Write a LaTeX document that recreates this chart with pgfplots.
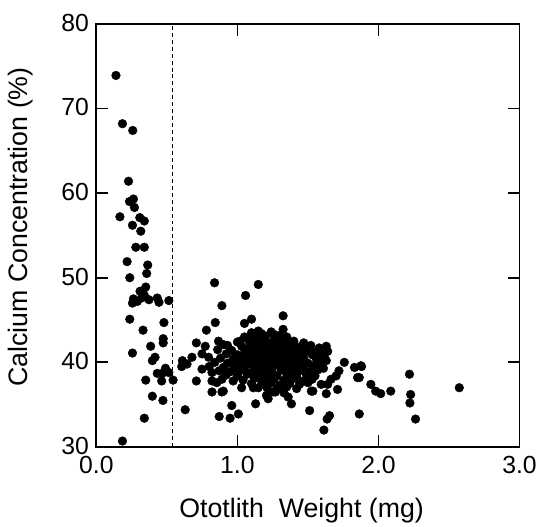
\documentclass[border=0pt]{standalone}
\usepackage{fontspec}
\setmainfont{Liberation Sans}
\usepackage{pgfplots}
\pgfplotsset{compat=1.18}
\begin{document}
\begin{tikzpicture}[x=1bp,y=1bp]
\begin{axis}[
  width=426bp, height=426bp, scale only axis,
  xmin=0, xmax=3, ymin=30, ymax=80,
  xtick={0,1,2,3}, ytick={30,40,50,60,70,80},
  tick align=inside, major tick length=12bp,
  axis line style={line width=1.8bp},
  every tick/.style={line width=1.8bp, black},
  /pgf/number format/assume math mode=true,
  ticklabel style={font=\fontsize{25}{29}\selectfont},
  xticklabel style={yshift=-6bp, /pgf/number format/fixed, /pgf/number format/precision=1, /pgf/number format/zerofill},
  yticklabel style={xshift=-4bp, yshift=1bp},
  label style={font=\fontsize{27}{31}\selectfont},
  xlabel={Ototlith\ \ Weight (mg)},
  ylabel={Calcium Concentration (\%)},
  xlabel style={at={(axis description cs:0.485,-0.150)}, anchor=center},
  ylabel style={at={(axis description cs:-0.178,0.52)}, anchor=center},
  clip=false,
]
\path (axis description cs:-0.2277,-0.1854) rectangle (axis description cs:1.04,1.0563);
\addplot[black, line width=0.9bp, dash pattern=on 4bp off 3bp] coordinates {(0.54,30) (0.54,80)};
\addplot[only marks, mark=*, mark size=4.4bp, mark options={fill=black, draw=black}] coordinates {
(0.139,73.9) (0.185,68.2) (0.258,67.4) (0.228,61.4) (0.235,59.0) (0.263,59.3) (0.27,58.3)
(0.167,57.2) (0.308,57.1) (0.34,56.7) (0.256,56.2) (0.315,55.5) (0.28,53.6) (0.34,53.6)
(0.218,51.9) (0.364,51.5) (0.357,50.5) (0.237,50.0) (0.35,48.9) (0.31,48.4) (0.338,48.0)
(0.263,47.5) (0.29,47.2) (0.256,47.0) (0.373,47.4) (0.32,47.6) (0.432,47.6) (0.444,47.1)
(0.514,47.3) (0.237,45.1) (0.479,44.7) (0.331,43.8) (0.474,42.8) (0.474,42.3) (0.385,41.9)
(0.256,41.1) (0.416,40.6) (0.397,40.2) (0.49,39.3) (0.432,38.7) (0.467,38.7) (0.514,38.8)
(0.463,37.8) (0.544,37.9) (0.35,37.9) (0.397,36.0) (0.472,35.5) (0.34,33.4) (0.185,30.7)
(0.605,39.5) (0.61,40.2) (0.63,34.4) (0.643,39.8) (0.678,40.6) (0.709,42.3) (0.709,37.8)
(0.749,41.0) (0.749,39.2) (0.772,41.9) (0.78,43.8) (0.796,40.6) (0.82,38.8) (0.82,37.8)
(0.82,36.5) (0.838,49.4) (0.843,44.7) (0.854,37.6) (0.866,42.5) (0.89,46.7) (0.90,42.1)
(0.9,39.0) (0.9,36.6) (0.89,36.5) (0.871,33.6) (0.948,33.4) (0.96,34.9) (0.97,37.8)
(1.007,33.9) (1.03,37.0) (1.019,42.5) (1.05,44.6) (1.058,47.9) (1.10,45.1) (1.148,49.2)
(1.148,43.7) (1.129,35.1) (1.113,37.0) (1.148,37.0) (1.206,36.1) (1.218,35.7) (1.254,36.5)
(1.26,43.3) (1.324,45.5) (1.324,43.9) (1.36,35.9) (1.383,35.1) (1.406,41.9) (1.512,34.3)
(1.524,36.6) (1.535,36.6) (1.594,37.4) (1.613,32.0) (1.636,33.3) (1.653,33.7) (1.63,41.9)
(1.64,41.3) (1.617,40.6) (1.64,37.4) (1.63,36.3) (1.664,38.0) (1.70,38.4) (1.71,36.8)
(1.72,39.0) (1.758,40.0) (1.83,39.4) (1.876,39.6) (1.88,39.5) (1.852,38.2) (1.864,38.2)
(1.864,33.9) (1.946,37.4) (1.98,36.6) (2.016,36.3) (2.087,36.6) (2.22,38.6)
(2.228,36.2) (2.223,35.2) (2.263,33.3) (2.573,37.0)
(1.10,43.5) (1.17,43.4) (1.24,43.6) (1.30,43.2)
(1.05,43.0) (1.14,42.9) (1.20,43.1) (1.28,42.8) (1.35,43.0)
(1.00,42.4) (1.08,42.6) (1.16,42.5) (1.22,42.3) (1.27,42.6) (1.33,42.4) (1.40,42.5) (1.47,42.3)
(0.93,42.0) (1.03,41.9) (1.11,42.1) (1.19,41.8) (1.25,42.0) (1.31,41.9) (1.37,42.1) (1.44,41.8) (1.52,42.0) (1.58,41.7)
(0.86,41.5) (0.96,41.4) (1.05,41.6) (1.13,41.3) (1.21,41.5) (1.28,41.4) (1.34,41.6) (1.41,41.3) (1.48,41.5) (1.55,41.2)
(0.92,41.0) (1.00,40.9) (1.08,41.1) (1.16,40.8) (1.24,41.0) (1.30,40.9) (1.38,41.1) (1.45,40.8) (1.53,40.9) (1.60,41.0)
(0.88,40.5) (0.97,40.4) (1.04,40.6) (1.11,40.3) (1.19,40.5) (1.26,40.4) (1.33,40.6) (1.40,40.3) (1.47,40.5) (1.56,40.4) (1.63,40.2)
(0.84,40.0) (0.93,39.9) (1.01,40.1) (1.08,39.8) (1.15,40.0) (1.22,39.9) (1.29,40.1) (1.36,39.8) (1.43,40.0) (1.50,39.9) (1.58,40.0)
(0.80,39.5) (0.90,39.4) (0.98,39.6) (1.05,39.3) (1.12,39.5) (1.20,39.4) (1.26,39.6) (1.32,39.3) (1.39,39.5) (1.46,39.4) (1.54,39.6) (1.61,39.3)
(0.87,39.0) (0.95,38.9) (1.03,39.1) (1.10,38.8) (1.17,39.0) (1.24,38.9) (1.31,39.1) (1.37,38.8) (1.44,39.0) (1.51,38.9) (1.57,39.1)
(0.92,38.5) (1.00,38.4) (1.07,38.6) (1.15,38.3) (1.22,38.5) (1.28,38.4) (1.35,38.6) (1.42,38.3) (1.49,38.5) (1.55,38.4)
(0.89,38.0) (1.04,37.9) (1.12,38.1) (1.19,37.8) (1.26,38.0) (1.33,37.9) (1.40,38.1) (1.47,37.8) (1.53,38.0)
(1.10,37.5) (1.17,37.4) (1.24,37.6) (1.30,37.3) (1.37,37.5) (1.44,37.4) (1.50,37.6)
(1.21,37.0) (1.28,36.9) (1.35,37.1) (1.42,36.9)
(1.27,36.5) (1.33,36.4)
(1.12,42.75) (1.26,42.7)
(1.13,42.2) (1.20,42.25) (1.36,42.3)
(1.08,41.7) (1.16,41.75) (1.29,41.7) (1.40,41.8)
(1.12,41.25) (1.20,41.3) (1.34,41.25) (1.49,41.3)
(1.03,40.7) (1.12,40.75) (1.27,40.7) (1.35,40.75) (1.42,40.7)
(1.07,40.25) (1.15,40.3) (1.23,40.2) (1.30,40.25) (1.44,40.2)
(1.04,39.75) (1.18,39.7) (1.25,39.75) (1.33,39.8) (1.47,39.75)
(1.00,39.2) (1.14,39.3) (1.21,39.2) (1.35,39.3) (1.41,39.2)
(1.11,38.75) (1.19,38.8) (1.25,38.7) (1.39,38.8)
(1.16,38.2) (1.23,38.25) (1.37,38.2)
(1.21,37.7) (1.34,37.8)
(1.32,37.2)
};
\end{axis}
\end{tikzpicture}
\end{document}
